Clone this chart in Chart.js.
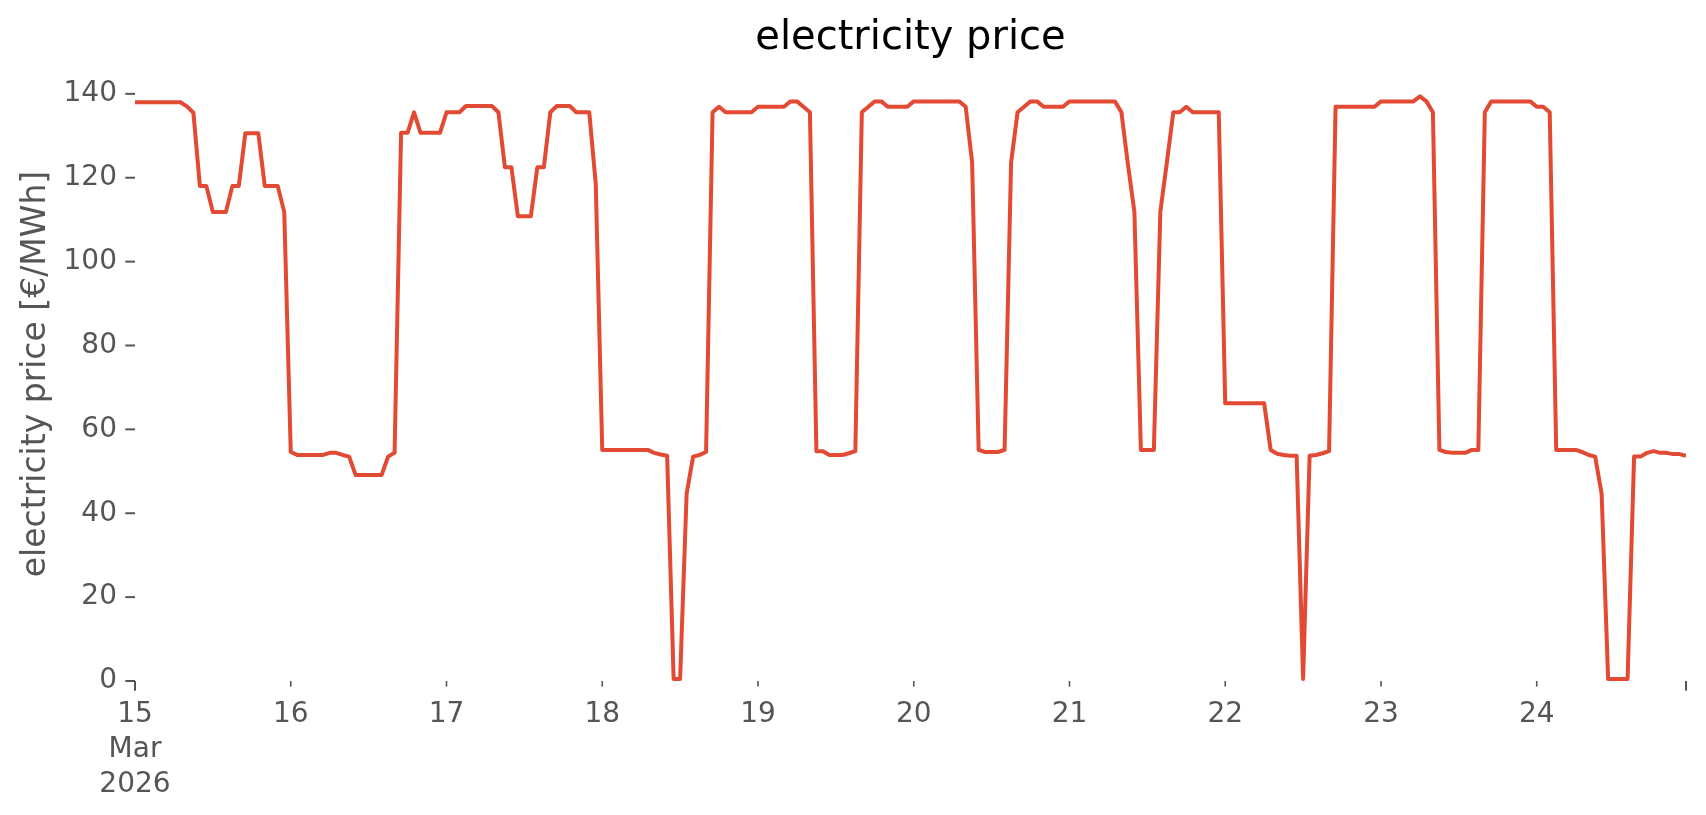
<!DOCTYPE html>
<html>
<head>
<meta charset="utf-8">
<script src="https://cdn.jsdelivr.net/npm/chart.js@4.4.1/dist/chart.umd.min.js"></script>
<style>
  html, body { margin: 0; padding: 0; background: #ffffff; }
  #wrap { width: 1706px; height: 815px; }
</style>
</head>
<body>
<div id="wrap"><canvas id="priceChart" width="1706" height="815"></canvas></div>
<script>
// hourly prices in €/MWh, one array per day (00:00 .. 23:00)
const mar15 = [138, 138, 138, 138, 138, 138, 138, 138, 137, 135.5, 118, 118, 111.8, 111.8, 111.8, 118, 118, 130.6, 130.6, 130.6, 118, 118, 118, 111.8];
const mar16 = [54.6, 53.9, 53.9, 53.9, 53.9, 53.9, 54.4, 54.4, 53.9, 53.5, 49.1, 49.1, 49.1, 49.1, 49.1, 53.5, 54.4, 130.7, 130.7, 135.6, 130.7, 130.7, 130.7, 130.7];
const mar17 = [135.6, 135.6, 135.6, 137.1, 137.1, 137.1, 137.1, 137.1, 135.6, 122.5, 122.5, 110.8, 110.8, 110.8, 122.5, 122.5, 135.6, 137.1, 137.1, 137.1, 135.6, 135.6, 135.6, 118.5];
const mar18 = [55.1, 55.1, 55.1, 55.1, 55.1, 55.1, 55.1, 55.1, 54.4, 54, 53.7, 0.5, 0.5, 44.6, 53.5, 53.9, 54.6, 135.6, 136.9, 135.6, 135.6, 135.6, 135.6, 135.6];
const mar19 = [136.9, 136.9, 136.9, 136.9, 136.9, 138.2, 138.2, 136.9, 135.6, 54.8, 54.8, 53.9, 53.9, 53.9, 54.3, 54.8, 135.6, 136.9, 138.2, 138.2, 136.9, 136.9, 136.9, 136.9];
const mar20 = [138.2, 138.2, 138.2, 138.2, 138.2, 138.2, 138.2, 138.2, 136.9, 123.6, 55.1, 54.6, 54.6, 54.6, 55.1, 123.6, 135.6, 136.9, 138.2, 138.2, 136.9, 136.9, 136.9, 136.9];
const mar21 = [138.2, 138.2, 138.2, 138.2, 138.2, 138.2, 138.2, 138.2, 135.6, 123.2, 111.9, 55.1, 55.1, 55.1, 111.9, 123.6, 135.6, 135.6, 136.9, 135.6, 135.6, 135.6, 135.6, 135.6];
const mar22 = [66.2, 66.2, 66.2, 66.2, 66.2, 66.2, 66.2, 55.1, 54.2, 53.9, 53.7, 53.7, 0.5, 53.7, 53.9, 54.3, 54.8, 136.9, 136.9, 136.9, 136.9, 136.9, 136.9, 136.9];
const mar23 = [138.2, 138.2, 138.2, 138.2, 138.2, 138.2, 139.4, 138.2, 135.6, 55.1, 54.6, 54.4, 54.4, 54.4, 55.1, 55.1, 135.6, 138.2, 138.2, 138.2, 138.2, 138.2, 138.2, 138.2];
const mar24 = [136.9, 136.9, 135.6, 55.1, 55.1, 55.1, 55.1, 54.6, 53.9, 53.5, 44.6, 0.5, 0.5, 0.5, 0.5, 53.5, 53.5, 54.4, 54.8, 54.4, 54.4, 54.1, 54.1, 53.7];

const dayLabels = ['15', '16', '17', '18', '19', '20', '21', '22', '23', '24'];
const firstLabel = ['15', 'Mar', '2026'];
const yTicks = [0, 20, 40, 60, 80, 100, 120, 140];
const yMax = 146.4;

const days = [mar15, mar16, mar17, mar18, mar19, mar20, mar21, mar22, mar23, mar24];
const prices = days.flat();
const lastHour = prices.length - 1;
const points = prices.map((v, i) => ({ x: i, y: v }));
const dayStarts = dayLabels.map((d, i) => i * 24);

Chart.defaults.font.family = "'DejaVu Sans', sans-serif";
Chart.defaults.color = '#555555';

// matplotlib style tick marks (major at the ends, minor for the days)
const tickMarks = {
  id: 'tickMarks',
  afterDraw(chart) {
    const { ctx, chartArea } = chart;
    const xs = chart.scales.x, ys = chart.scales.y;
    ctx.save();
    ctx.strokeStyle = '#555555';
    ctx.lineWidth = 2;
    yTicks.forEach(v => {
      const py = ys.getPixelForValue(v);
      ctx.beginPath();
      ctx.moveTo(chartArea.left - 9.7, py);
      ctx.lineTo(chartArea.left, py);
      ctx.stroke();
    });
    xs.ticks.forEach(t => {
      const major = t.value === 0 || t.value === lastHour;
      const px = xs.getPixelForValue(t.value);
      ctx.lineWidth = major ? 2 : 1.6;
      ctx.beginPath();
      ctx.moveTo(px, chartArea.bottom);
      ctx.lineTo(px, chartArea.bottom + (major ? 9.7 : 5.6));
      ctx.stroke();
    });
    ctx.restore();
  }
};

new Chart(document.getElementById('priceChart'), {
  type: 'line',
  data: {
    datasets: [{
      label: 'electricity price',
      data: points,
      borderColor: '#E24A33',
      borderWidth: 4,
      borderJoinStyle: 'round',
      pointRadius: 0,
      tension: 0,
      fill: false
    }]
  },
  options: {
    responsive: false,
    animation: false,
    devicePixelRatio: 1,
    layout: { padding: { left: 0, right: 20, top: 0, bottom: 0 } },
    plugins: {
      legend: { display: false },
      tooltip: { enabled: false },
      title: {
        display: true,
        text: 'electricity price',
        color: '#000000',
        fullSize: false,
        font: { size: 40, weight: 'normal' },
        padding: { top: 15, bottom: 4 }
      }
    },
    scales: {
      x: {
        type: 'linear',
        min: 0,
        max: lastHour,
        grid: { display: false, drawTicks: false },
        border: { display: false },
        afterBuildTicks: s => { s.ticks = dayStarts.concat([lastHour]).map(v => ({ value: v })); },
        afterFit: s => { s.height = 134; },
        ticks: {
          autoSkip: false,
          maxRotation: 0,
          padding: 16,
          color: '#555555',
          font: { size: 28, lineHeight: 1.25 },
          callback: v => v === 0 ? firstLabel : (v === lastHour ? '' : dayLabels[v / 24])
        }
      },
      y: {
        min: 0,
        max: yMax,
        grid: { display: false, drawTicks: false },
        border: { display: false },
        afterBuildTicks: s => { s.ticks = yTicks.map(v => ({ value: v })); },
        afterFit: s => { s.width = 135; },
        ticks: {
          padding: 18,
          color: '#555555',
          font: { size: 28 }
        },
        title: {
          display: true,
          text: 'electricity price [€/MWh]',
          color: '#555555',
          font: { size: 33 },
          padding: { top: 17, bottom: 0 }
        }
      }
    }
  },
  plugins: [tickMarks]
});
</script>
</body>
</html>
